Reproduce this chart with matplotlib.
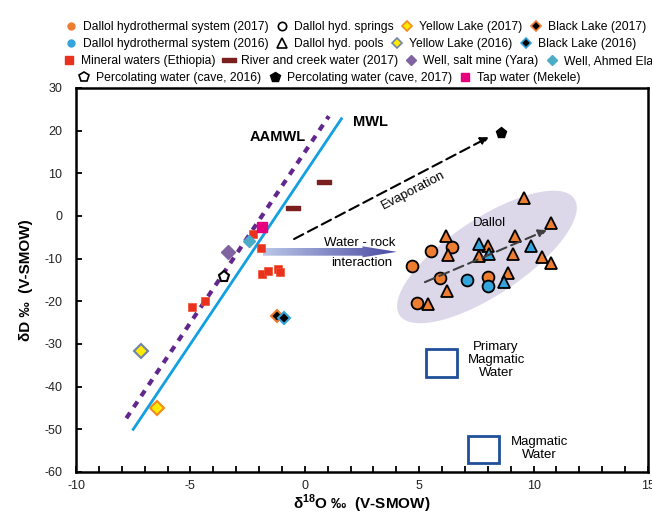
import numpy as np
import matplotlib
matplotlib.use('Agg')
import matplotlib.pyplot as plt
from matplotlib.lines import Line2D
from matplotlib.patches import Rectangle, FancyArrow
from matplotlib.colors import LinearSegmentedColormap

plt.rcParams['font.family'] = ['Liberation Sans', 'DejaVu Sans']
plt.rcParams['mathtext.fontset'] = 'custom'
plt.rcParams['mathtext.rm'] = 'Liberation Sans'
plt.rcParams['mathtext.bf'] = 'Liberation Sans:bold'
plt.rcParams['axes.unicode_minus'] = False

# ---- data (delta18O, deltaD) ----
mwl_x = [-7.5, 1.6]
mwl_y = [-50.0, 22.8]
aamwl_x = [-7.8, 1.05]
aamwl_y = [-47.4, 23.4]

pools17_x = [9.58, 10.76, 6.17, 9.19, 6.26, 8.01, 7.61, 9.10, 10.37, 10.76, 8.88, 6.21, 5.38]
pools17_y = [4.2, -1.6, -4.7, -4.7, -9.1, -7.0, -9.4, -8.9, -9.6, -11.0, -13.4, -17.6, -20.6]
pools16_x = [7.61, 8.05, 9.89, 8.71]
pools16_y = [-6.6, -8.9, -7.0, -15.5]
springs17_x = [5.51, 6.43, 4.68, 5.91, 8.01, 4.90]
springs17_y = [-8.2, -7.3, -11.7, -14.5, -14.3, -20.4]
springs16_x = [7.09, 8.01]
springs16_y = [-15.0, -16.4]

mineral_x = [-2.26, -1.91, -1.87, -1.61, -1.17, -1.08, -4.36, -4.93]
mineral_y = [-4.2, -7.5, -13.6, -12.9, -12.4, -13.1, -19.9, -21.3]
tap_x, tap_y = [-1.87], [-2.6]
ahmed_x, ahmed_y = [-2.44], [-5.9]
yara_x, yara_y = [-3.36], [-8.4]
cave16_x, cave16_y = [-3.53], [-14.3]
cave17_x, cave17_y = [8.58], [19.5]
river_x = [0.84, -0.52]
river_y = [8.0, 1.9]
black17_x, black17_y = [-1.22], [-23.4]
black16_x, black16_y = [-0.91], [-23.9]
yellow16_x, yellow16_y = [-7.16], [-31.6]
yellow17_x, yellow17_y = [-6.46], [-45.0]

# magmatic water boxes: x0, x1, y0, y1
primary_box = [5.30, 6.65, -37.7, -31.2]
magmatic_box = [7.13, 8.49, -57.9, -51.6]

ORANGE = '#ed7d31'
BLUE = '#34a4dc'
bar = [(-2, -0.55), (2, -0.55), (2, 0.55), (-2, 0.55), (-2, -0.55)]

fig = plt.figure(figsize=(6.52, 5.12), dpi=100)
ax = fig.add_axes([76/652, 1-472/512, 572/652, 384/512])

# Dallol ellipse (shape given in pixels, converted to data units)
sx, sy = 25/572, 90/384
t = np.linspace(0, 2*np.pi, 200)
a, b, th = 105, 38, np.deg2rad(33.7)
ex = a*np.cos(t)*np.cos(th) - b*np.sin(t)*np.sin(th)
ey = a*np.cos(t)*np.sin(th) + b*np.sin(t)*np.cos(th)
ax.fill(7.96 + ex*sx, -9.6 + ey*sy, color='#dcd8ea', lw=0, zorder=1)

ax.plot(mwl_x, mwl_y, color='#12a0e0', lw=2, zorder=2)
ax.plot(aamwl_x, aamwl_y, color='#62278c', lw=3, ls=(0, (1.6, 1.6)), zorder=2)

# arrows
ax.annotate('', xy=(8.05, 18.5), xytext=(-0.47, -5.4),
            arrowprops=dict(arrowstyle='-|>', ls=(0, (5, 2.5)), color='black', lw=1.5,
                            mutation_scale=12, shrinkA=0, shrinkB=0), zorder=3)
ax.annotate('', xy=(10.58, -3.3), xytext=(5.25, -15.5),
            arrowprops=dict(arrowstyle='-|>', ls=(0, (5, 2.5)), color='#404040', lw=1.5,
                            mutation_scale=12, shrinkA=0, shrinkB=0), zorder=5)

arr = FancyArrow(-1.83, -8.4, 5.85, 0, width=1.8, head_width=2.6, head_length=1.5,
                 length_includes_head=True, facecolor='none', edgecolor='none')
ax.add_patch(arr)
cmap = LinearSegmentedColormap.from_list('wr', ['#bac7e9', '#4a4aa2'])
im = ax.imshow(np.linspace(0, 1, 256).reshape(1, -1), extent=[-1.83, 4.02, -10, -6.8],
               aspect='auto', cmap=cmap, zorder=3)
im.set_clip_path(arr)

for box in [primary_box, magmatic_box]:
    ax.add_patch(Rectangle((box[0], box[2]), box[1]-box[0], box[3]-box[2],
                           fill=False, ec='#1f4f99', lw=2, zorder=3))

# points
ax.plot(mineral_x, mineral_y, 's', color='#e8321e', ms=6, mec='#f0502e', mew=0.5, zorder=4)
ax.plot(tap_x, tap_y, 's', color='#e6007e', ms=6.5, zorder=4)
ax.plot(ahmed_x, ahmed_y, 'D', color='#4bacc6', ms=6, zorder=4)
ax.plot(yara_x, yara_y, 'D', color='#8064a2', ms=7, zorder=4)
ax.plot(cave16_x, cave16_y, 'p', mfc='white', mec='black', mew=1.5, ms=8, zorder=4)
ax.plot(cave17_x, cave17_y, 'p', color='black', ms=8, zorder=4)
ax.plot(river_x, river_y, marker=bar, ls='none', color='#7b1e1e', ms=10, zorder=4)
ax.plot(black17_x, black17_y, 'D', mfc='black', mec=ORANGE, mew=1.5, ms=6.5, zorder=4)
ax.plot(black16_x, black16_y, 'D', mfc='black', mec=BLUE, mew=1.5, ms=6.5, zorder=4)
ax.plot(yellow16_x, yellow16_y, 'D', mfc='#ffea00', mec='#6f84aa', mew=1.5, ms=7.5, zorder=4)
ax.plot(yellow17_x, yellow17_y, 'D', mfc='#ffea00', mec='#f28a1c', mew=1.5, ms=7.5, zorder=4)

ax.plot(springs17_x, springs17_y, 'o', mfc=ORANGE, mec='black', mew=1.3, ms=8.5, zorder=4)
ax.plot(springs16_x, springs16_y, 'o', mfc=BLUE, mec='black', mew=1.3, ms=8.5, zorder=4)
ax.plot(pools17_x, pools17_y, '^', mfc=ORANGE, mec='black', mew=1.3, ms=9, zorder=4)
ax.plot(pools16_x, pools16_y, '^', mfc=BLUE, mec='black', mew=1.3, ms=9, zorder=4)

# texts
ax.text(-1.2, 18.5, 'AAMWL', fontsize=10.5, fontweight='bold', ha='center', va='center')
ax.text(2.85, 22.0, 'MWL', fontsize=10.5, fontweight='bold', ha='center', va='center')
ax.text(4.73, 6.1, 'Evaporation', fontsize=9.5, rotation=27.6, ha='center', va='center',
        rotation_mode='anchor')
ax.text(8.05, -1.6, 'Dallol', fontsize=9.5, ha='center', va='center')
ax.text(2.42, -6.3, 'Water - rock', fontsize=9.5, ha='center', va='center')
ax.text(2.5, -11.0, 'interaction', fontsize=9.5, ha='center', va='center')
ax.text(8.36, -33.8, 'Primary\nMagmatic\nWater', fontsize=9.5, ha='center', va='center',
        linespacing=1.1)
ax.text(10.25, -54.4, 'Magmatic\nWater', fontsize=9.5, ha='center', va='center',
        linespacing=1.1)

ax.set_xlim(-10, 15)
ax.set_ylim(-60, 30)
ax.set_xticks(np.arange(-10, 16, 5))
ax.set_xticks(np.arange(-10, 16, 1), minor=True)
ax.set_yticks(np.arange(-60, 31, 10))
ax.tick_params(direction='in', length=4, width=1.3, labelsize=9, colors='black',
               labelcolor='#222222', pad=6)
ax.tick_params(which='minor', direction='in', length=4, width=1.3)
ax.tick_params(axis='y', pad=10)
for s in ax.spines.values():
    s.set_linewidth(1.8)
ax.set_xlabel(r'δ$^{\mathbf{18}}$O ‰  (V-SMOW)', fontsize=11, fontweight='bold', labelpad=0)
ax.set_ylabel('δD ‰  (V-SMOW)', fontsize=11, fontweight='bold', labelpad=8)

# legend rows
def h(marker, **kw):
    return Line2D([], [], ls='none', marker=marker, **kw)

rows = [
    (71, 27, [h('o', color=ORANGE, ms=5), h('o', mfc='white', mec='black', mew=1.2, ms=6),
              h('D', mfc='#ffea00', mec='#f28a1c', mew=1.2, ms=5.5),
              h('D', mfc='black', mec=ORANGE, mew=1.2, ms=5.5)],
     ['Dallol hydrothermal system (2017)', 'Dallol hyd. springs', 'Yellow Lake (2017)',
      'Black Lake (2017)']),
    (71, 44, [h('o', color=BLUE, ms=5), h('^', mfc='white', mec='black', mew=1.2, ms=6.5),
              h('D', mfc='#ffea00', mec='#6f84aa', mew=1.2, ms=5.5),
              h('D', mfc='black', mec=BLUE, mew=1.2, ms=5.5)],
     ['Dallol hydrothermal system (2016)', 'Dallol hyd. pools', 'Yellow Lake (2016)',
      'Black Lake (2016)']),
    (69, 61, [h('s', color='#e8321e', ms=5.5), h(bar, color='#7b1e1e', ms=10),
              h('D', color='#8064a2', ms=5.5), h('D', color='#4bacc6', ms=5.5)],
     ['Mineral waters (Ethiopia)', 'River and creek water (2017)', 'Well, salt mine (Yara)',
      'Well, Ahmed Ela']),
    (84, 78, [h('p', mfc='white', mec='black', mew=1.2, ms=7), h('p', color='black', ms=7),
              h('s', color='#e6007e', ms=5.5)],
     ['Percolating water (cave, 2016)', 'Percolating water (cave, 2017)', 'Tap water (Mekele)']),
]
fs = 8.7
hl = 0.8
for xm, ym, handles, labels in rows:
    left = xm - hl*fs*100/72/2
    fig.legend(handles, labels, loc='center left', bbox_to_anchor=(left/652, 1-ym/512),
               ncol=len(handles), frameon=False, fontsize=fs, handlelength=hl,
               handletextpad=0.6, columnspacing=0.7, borderpad=0, borderaxespad=0)

fig.savefig('out.png', dpi=100)
